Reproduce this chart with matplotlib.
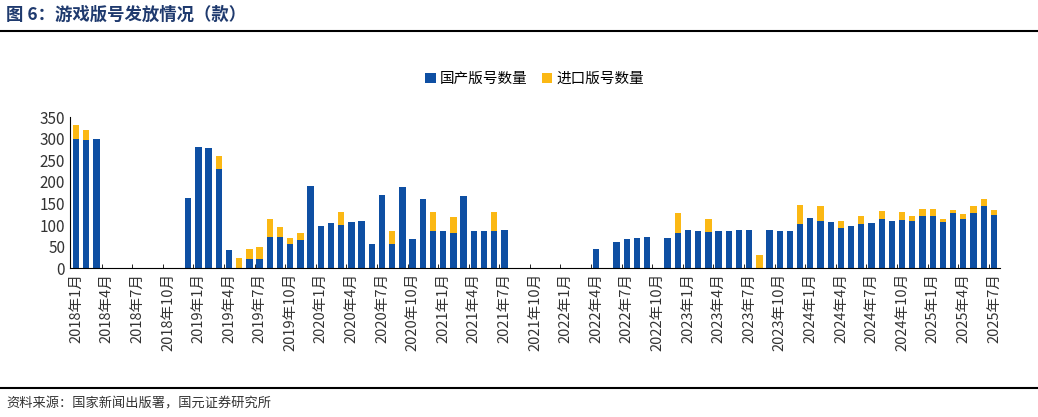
import matplotlib
matplotlib.use("Agg")
import matplotlib.pyplot as plt
import numpy as np

plt.rcParams['font.family'] = ['Noto Sans CJK SC']

months = [f"{y}年{m}月" for y in range(2018, 2026) for m in range(1, 13)][:91]
domestic = [300,298,300,0,0,0,0,0,0,0,0,163,
            280,278,231,41,0,21,21,72,72,57,65,190,
            98,105,99,108,109,55,169,55,188,67,161,85,
            85,82,168,87,87,85,88,0,0,0,0,0,
            0,0,0,45,0,60,67,69,73,0,70,82,
            88,87,84,87,87,89,88,0,89,87,87,103,
            116,109,107,93,97,102,105,114,110,111,110,120,
            121,108,128,114,128,145,124]
imported = [31,22,0,0,0,0,0,0,0,0,0,0,
            0,0,30,0,23,23,27,41,23,14,17,0,
            0,0,30,0,0,0,0,31,0,0,0,44,
            0,36,0,0,0,46,0,0,0,0,0,0,
            0,0,0,0,0,0,0,0,0,0,0,46,
            0,0,30,0,0,0,0,30,0,0,0,43,
            0,34,0,17,0,18,0,19,0,18,10,16,
            17,6,7,12,17,15,11]
yticks = [0,50,100,150,200,250,300,350]

fig = plt.figure(figsize=(10.38,4.17), dpi=100)
ax = fig.add_axes([0.0674, 0.357, 0.896, 0.362])
x = np.arange(len(months))
blue, yellow = '#0E4FA3', '#FBB814'
ax.bar(x, domestic, width=0.62, color=blue, label='国产版号数量')
ax.bar(x, imported, width=0.62, bottom=domestic, color=yellow, label='进口版号数量')
ax.set_xlim(-0.6, len(months)-0.4)
ax.set_ylim(0, 350)
ax.set_yticks(yticks)
ax.tick_params(axis='y', length=0, labelsize=11, colors='#333333')
ax.set_xticks(x[::3])
ax.set_xticklabels(months[::3], rotation=90, fontsize=10.5, color='#333333')
ax.set_xticks(np.arange(2.5, len(months), 3), minor=True)
ax.tick_params(axis='x', which='major', length=0)
ax.tick_params(axis='x', which='minor', length=3, direction='in')
for s in ['top','right']:
    ax.spines[s].set_visible(False)
ax.spines['left'].set_color('black')
ax.spines['bottom'].set_color('black')
ax.legend(loc='lower center', bbox_to_anchor=(0.5, 1.12), ncol=2, frameon=False,
          fontsize=10.5, handlelength=0.7, handleheight=0.7, columnspacing=1.0, handletextpad=0.3)

fig.text(0.006, 0.965, '图 6：游戏版号发放情况（款）', fontsize=12.5, fontweight='bold', color='#1F3A6E', va='center')
fig.add_artist(plt.Line2D([0.0, 1.0], [0.925, 0.925], color='black', lw=1.5))
fig.add_artist(plt.Line2D([0.0, 1.0], [0.07, 0.07], color='black', lw=1.5))
fig.text(0.006, 0.03, '资料来源：国家新闻出版署，国元证券研究所', fontsize=9.5, color='#333333', va='center')
fig.savefig('out.png', dpi=100)
